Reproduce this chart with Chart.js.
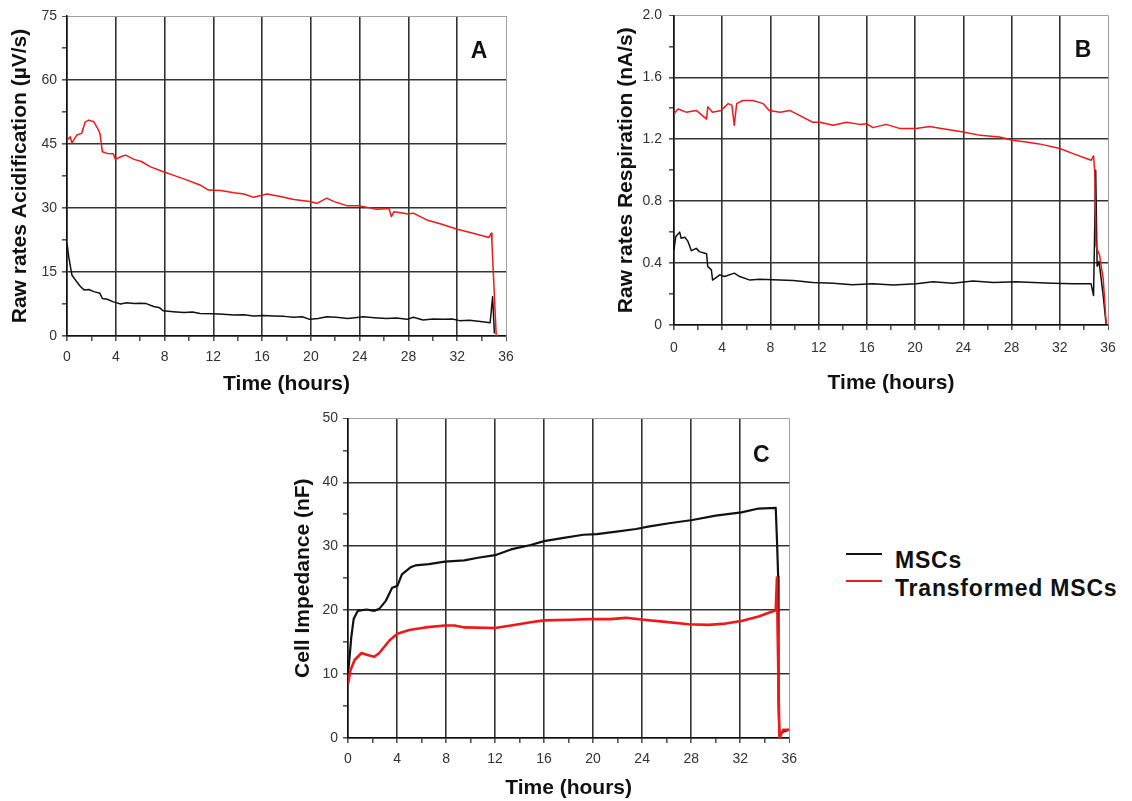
<!DOCTYPE html>
<html>
<head>
<meta charset="utf-8">
<script src="https://cdn.jsdelivr.net/npm/chart.js@4"></script>
<style>
  body { margin: 0; background: #fff; width: 1132px; height: 801px; position: relative; overflow: hidden; }
  canvas { position: absolute; }
  #chartA { left: 0; top: 0; }
  #chartB { left: 600px; top: 0; }
  #chartC { left: 280px; top: 405px; }
  .leyenda-linea { position: absolute; left: 846px; width: 36px; height: 2px; }
  .leyenda-texto { position: absolute; left: 895px; font: bold 23px "Liberation Sans", Arial, sans-serif; letter-spacing: 0.8px; line-height: 26px; color: #111; white-space: nowrap; }
</style>
</head>
<body>
<canvas id="chartA" width="525" height="400"></canvas>
<canvas id="chartB" width="530" height="400"></canvas>
<canvas id="chartC" width="525" height="396"></canvas>

<div class="leyenda-linea" style="top:553px;background:#111"></div>
<div class="leyenda-texto" style="top:547px">MSCs</div>
<div class="leyenda-linea" style="top:580px;background:#f01818"></div>
<div class="leyenda-texto" style="top:575px">Transformed MSCs</div>

<script>
// Panel A - acidification (µV/s)
const aMscTime = [0, 0.14, 0.4, 0.8, 1.1, 1.4, 1.8, 2.2, 2.7, 2.9,
  3.3, 3.8, 4.4, 4.9, 5.5, 6.0, 6.5, 7.1, 7.6, 7.9,
  8.7, 9.6, 10.3, 10.9, 12.0, 12.8, 13.7, 14.5, 15.3, 16.1,
  16.9, 17.8, 18.6, 19.3, 19.9, 20.6, 21.3, 22.1, 23.0, 23.6,
  24.3, 25.2, 26.2, 27.0, 27.9, 28.4, 29.2, 30.0, 30.9, 31.6,
  32.2, 33.0, 33.9, 34.7, 34.9, 35.05];
const aMscVal = [21.7, 18.6, 14.3, 12.7, 11.6, 10.8, 10.9, 10.4, 10.0, 8.8,
  8.6, 8.0, 7.5, 7.8, 7.6, 7.7, 7.6, 6.9, 6.6, 5.9,
  5.7, 5.5, 5.6, 5.3, 5.2, 5.1, 4.9, 5.0, 4.7, 4.8,
  4.7, 4.6, 4.4, 4.5, 3.9, 4.1, 4.5, 4.4, 4.1, 4.3,
  4.5, 4.3, 4.1, 4.2, 3.9, 4.4, 3.75, 4.0, 3.9, 4.0,
  3.6, 3.7, 3.4, 3.1, 9.2, 0.6];
const aTrTime = [0, 0.27, 0.4, 0.8, 1.2, 1.5, 1.8, 2.2, 2.5, 2.7,
  2.9, 3.3, 3.8, 3.96, 4.4, 4.8, 5.5, 6.1, 6.8, 7.9,
  8.7, 9.8, 10.9, 11.6, 12.6, 13.7, 14.5, 15.3, 16.4, 17.5,
  18.6, 19.9, 20.5, 21.3, 21.9, 23.0, 24.0, 25.4, 26.4, 26.6,
  26.8, 28.0, 28.4, 29.5, 30.6, 32.0, 33.3, 34.6, 34.8, 34.85,
  35.2];
const aTrVal = [45.9, 46.7, 45.2, 47.1, 47.5, 50.2, 50.6, 50.2, 48.7, 47.5,
  43.2, 42.8, 42.7, 41.4, 42.0, 42.4, 41.4, 40.9, 39.7, 38.5,
  37.7, 36.6, 35.4, 34.2, 34.1, 33.6, 33.3, 32.5, 33.3, 32.7,
  32.0, 31.5, 31.1, 32.3, 31.5, 30.5, 30.5, 29.7, 29.9, 28.0,
  29.1, 28.6, 28.8, 27.2, 26.3, 25.0, 24.1, 23.1, 24.1, 21.7,
  0];

// Panel B - respiration (nA/s)
const bMscTime = [0, 0.14, 0.47, 0.6, 0.9, 1.16, 1.44, 1.85, 2.1, 2.7,
  2.8, 3.1, 3.2, 3.8, 4.2, 5.0, 5.45, 6.3, 7.1, 8.2,
  9.9, 11.5, 13.2, 14.8, 16.5, 18.2, 20.1, 21.5, 23.1, 24.8,
  26.5, 28.4, 29.8, 31.4, 33.1, 34.6, 34.8, 34.98, 35.1, 35.25,
  35.4, 35.6, 35.85];
const bMscVal = [0.485, 0.57, 0.60, 0.56, 0.567, 0.54, 0.48, 0.495, 0.474, 0.46,
  0.378, 0.356, 0.29, 0.324, 0.313, 0.335, 0.313, 0.29, 0.296, 0.292,
  0.287, 0.275, 0.27, 0.26, 0.266, 0.258, 0.266, 0.279, 0.27, 0.285,
  0.275, 0.28, 0.275, 0.27, 0.266, 0.266, 0.19, 1.0, 0.38, 0.41,
  0.32, 0.19, 0.0];
const bTrTime = [0, 0.33, 1.0, 1.85, 2.7, 2.8, 3.2, 3.9, 4.5, 4.8,
  5.0, 5.2, 5.7, 6.55, 7.4, 7.9, 8.8, 9.6, 10.4, 11.5,
  12.1, 13.2, 14.3, 15.4, 16.0, 16.5, 17.6, 18.7, 20.1, 21.2,
  22.3, 24.0, 25.4, 27.0, 28.1, 29.2, 30.3, 32.0, 33.1, 34.6,
  34.8, 34.9, 35.0, 35.3, 35.6, 35.85];
const bTrVal = [1.365, 1.395, 1.375, 1.386, 1.33, 1.41, 1.375, 1.386, 1.43, 1.42,
  1.29, 1.43, 1.45, 1.45, 1.43, 1.386, 1.375, 1.386, 1.354, 1.31,
  1.31, 1.29, 1.31, 1.296, 1.30, 1.275, 1.296, 1.27, 1.27, 1.283,
  1.268, 1.247, 1.225, 1.215, 1.193, 1.182, 1.17, 1.14, 1.107, 1.064,
  1.093, 0.99, 0.51, 0.45, 0.30, 0.01];

// Panel C - impedance (nF)
const cMscTime = [0, 0.13, 0.27, 0.46, 0.8, 1.5, 2.15, 2.55, 3.1, 3.6,
  4.03, 4.4, 5.1, 5.5, 6.6, 7.9, 9.5, 10.6, 12.0, 13.3,
  14.9, 16.0, 17.6, 19.2, 20.3, 21.9, 23.5, 24.6, 26.2, 28.1,
  30.0, 32.1, 33.5, 34.9, 35.0, 35.1, 35.13, 35.2, 35.5, 36];
const cMscVal = [10.1, 12.7, 15.8, 18.6, 19.9, 20.1, 19.9, 20.2, 21.5, 23.5,
  23.8, 25.6, 26.7, 27.0, 27.2, 27.6, 27.8, 28.2, 28.6, 29.5,
  30.2, 30.8, 31.3, 31.8, 31.9, 32.3, 32.7, 33.1, 33.6, 34.1,
  34.8, 35.3, 35.9, 36.0, 31.0, 25.2, 5.4, 0.5, 1.0, 1.3];
const cTrTime = [0, 0.2, 0.54, 1.1, 1.6, 2.15, 2.55, 3.4, 4.03, 5.0,
  6.3, 7.9, 8.7, 9.5, 12.0, 13.3, 14.9, 16.0, 18.1, 19.7,
  21.4, 22.7, 24.1, 25.7, 27.8, 29.4, 30.8, 32.1, 33.5, 34.9,
  35.0, 35.05, 35.2, 35.5, 36];
const cTrVal = [8.5, 10.6, 12.2, 13.3, 13.0, 12.7, 13.3, 15.3, 16.3, 16.9,
  17.3, 17.6, 17.6, 17.3, 17.2, 17.6, 18.1, 18.4, 18.5, 18.6,
  18.6, 18.8, 18.5, 18.2, 17.8, 17.7, 17.9, 18.3, 19.0, 20.0,
  25.1, 17.3, 0, 1.3, 1.3];

const xTicks = [0, 4, 8, 12, 16, 20, 24, 28, 32, 36];
const seriesNames = ['MSCs', 'Transformed MSCs'];

const fuente = '"Liberation Sans", Arial, sans-serif';
const negro = '#111';
const rojo = '#f01818';

function puntos(tiempos, valores) {
  return tiempos.map((t, i) => ({ x: t, y: valores[i] }));
}

const letraPanel = {
  id: 'letraPanel',
  afterDraw(chart, args, opts) {
    const ctx = chart.ctx;
    const area = chart.chartArea;
    ctx.save();
    ctx.font = 'bold 23px ' + fuente;
    ctx.fillStyle = '#111';
    ctx.textAlign = 'center';
    ctx.textBaseline = 'middle';
    ctx.fillText(opts.text, area.right - opts.dx, area.top + opts.dy);
    ctx.restore();
  }
};

function crearPanel(id, p) {
  const esMayorY = v => Math.abs(v / p.yLabelStep - Math.round(v / p.yLabelStep)) < 1e-6;
  const config = {
    type: 'line',
    data: {
      datasets: [
        { label: seriesNames[0], data: puntos(p.t1, p.v1), borderColor: negro, borderWidth: p.lw, order: 1 },
        { label: seriesNames[1], data: puntos(p.t2, p.v2), borderColor: rojo, borderWidth: p.lw2, order: 0 }
      ]
    },
    options: {
      responsive: false,
      animation: false,
      devicePixelRatio: 1,
      elements: { point: { radius: 0 }, line: { tension: 0, borderJoinStyle: 'round' } },
      layout: { padding: { top: p.padTop, right: p.padRight, left: 0, bottom: 0 } },
      plugins: {
        legend: { display: false },
        tooltip: { enabled: false },
        letraPanel: { text: p.letter, dx: p.letterDx, dy: p.letterDy }
      },
      scales: {
        x: {
          type: 'linear',
          min: 0, max: 36,
          afterFit: s => { s.height = p.xHeight; },
          ticks: {
            stepSize: 2, autoSkip: false, maxRotation: 0, padding: p.xTickPad,
            color: '#333', font: { family: fuente, size: 14 },
            callback: v => xTicks.includes(v) ? String(v) : ''
          },
          grid: {
            drawTicks: true, tickLength: 5,
            color: c => c.tick.value === 36 ? '#a0a0a0' : (c.tick.value % 4 === 0 ? '#333' : 'rgba(0,0,0,0)'),
            lineWidth: c => c.tick.value === 36 ? 1 : 1.6,
            tickColor: '#555'
          },
          border: { color: '#111', width: 1.5 },
          title: {
            display: true, text: 'Time (hours)', color: '#111',
            font: { family: fuente, size: 21, weight: 'bold' },
            padding: { top: 0, bottom: p.xTitlePad }
          }
        },
        y: {
          min: 0, max: p.yMax,
          afterFit: s => { s.width = p.yWidth; },
          ticks: {
            stepSize: p.yStep, autoSkip: false, padding: p.yTickPad,
            color: '#333', font: { family: fuente, size: 14 },
            callback: v => esMayorY(v) ? p.fmt(v) : ''
          },
          grid: {
            drawTicks: true, tickLength: 5,
            color: c => Math.abs(c.tick.value - p.yMax) < 1e-6 ? '#a0a0a0' : (esMayorY(c.tick.value) ? '#333' : 'rgba(0,0,0,0)'),
            lineWidth: c => Math.abs(c.tick.value - p.yMax) < 1e-6 ? 1 : 1.6,
            tickColor: '#555'
          },
          border: { color: '#111', width: 1.5 },
          title: {
            display: true, text: p.yTitle, color: '#111',
            font: { family: fuente, size: 21, weight: 'bold' },
            padding: { top: p.yTitlePad, bottom: 0 }
          }
        }
      }
    },
    plugins: [letraPanel]
  };
  return new Chart(document.querySelector(id), config);
}

crearPanel('#chartA', {
  t1: aMscTime, v1: aMscVal, t2: aTrTime, v2: aTrVal, lw: 1.5, lw2: 1.5,
  yMax: 75, yStep: 7.5, yLabelStep: 15, fmt: v => String(v),
  yTitle: 'Raw rates Acidification (\u00b5V/s)', letter: 'A',
  padTop: 16, padRight: 19, xHeight: 64, yWidth: 67,
  xTickPad: 8, yTickPad: 5, xTitlePad: 3.4, yTitlePad: 7.4,
  letterDx: 27, letterDy: 36
});

crearPanel('#chartB', {
  t1: bMscTime, v1: bMscVal, t2: bTrTime, v2: bTrVal, lw: 1.5, lw2: 1.5,
  yMax: 2, yStep: 0.2, yLabelStep: 0.4, fmt: v => v === 0 ? '0' : v.toFixed(1),
  yTitle: 'Raw rates Respiration (nA/s)', letter: 'B',
  padTop: 15, padRight: 22, xHeight: 75, yWidth: 74,
  xTickPad: 10, yTickPad: 7, xTitlePad: 4.4, yTitlePad: 13.4,
  letterDx: 25, letterDy: 35
});

crearPanel('#chartC', {
  t1: cMscTime, v1: cMscVal, t2: cTrTime, v2: cTrVal, lw: 2.2, lw2: 2.6,
  yMax: 50, yStep: 5, yLabelStep: 10, fmt: v => String(v),
  yTitle: 'Cell Impedance (nF)', letter: 'C',
  padTop: 11, padRight: 10, xHeight: 63, yWidth: 68,
  xTickPad: 8, yTickPad: 5, xTitlePad: 0.4, yTitlePad: 10.4,
  letterDx: 28, letterDy: 37
});
</script>
</body>
</html>
